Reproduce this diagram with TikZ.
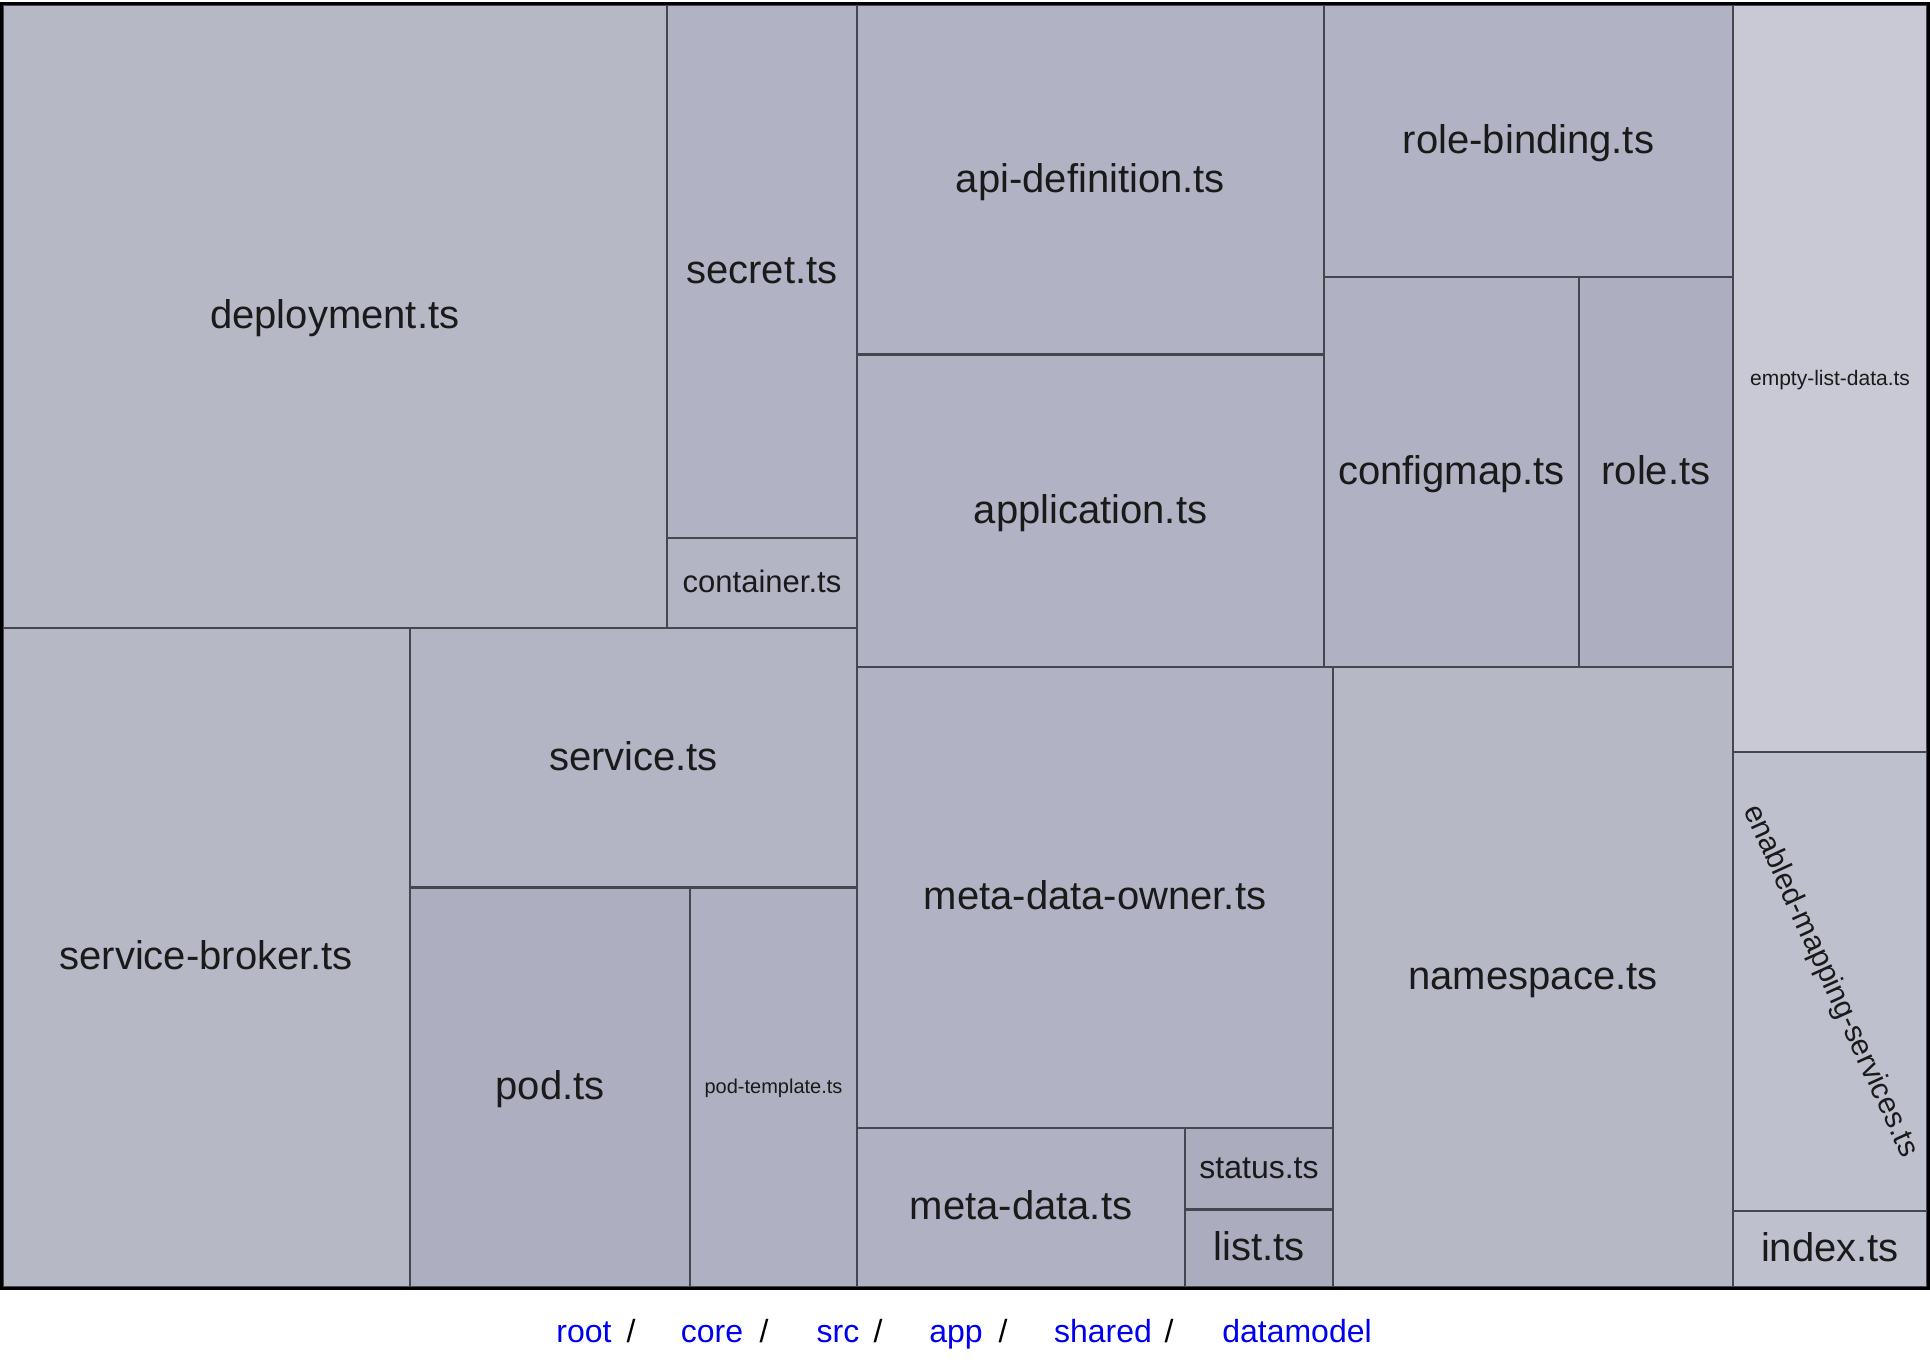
\documentclass[tikz,border=0pt]{standalone}
\usepackage{fontspec}
\setmainfont{Liberation Sans}
\usetikzlibrary{positioning}

\definecolor{tileline}{HTML}{45464F}
\definecolor{labeltext}{HTML}{1A1A1A}
\definecolor{crumbblue}{HTML}{0000EE}
\definecolor{tone1}{HTML}{B7B8C6}
\definecolor{tone2}{HTML}{B1B2C3}
\definecolor{tone3}{HTML}{B3B4C4}
\definecolor{tone4}{HTML}{B0B1C2}
\definecolor{tone5}{HTML}{ADAEBF}
\definecolor{tone6}{HTML}{AFB0C1}
\definecolor{tone7}{HTML}{ABACBE}
\definecolor{pale1}{HTML}{C9C9D6}
\definecolor{pale2}{HTML}{BFC0CE}

\begin{document}
\begin{tikzpicture}[x=1pt, y=-1pt,
    tile/.style 2 args={draw=tileline, line width=2.2pt, inner sep=0pt, text=labeltext,
      minimum width=#1, minimum height=#2, font=\fontsize{40}{48}\selectfont,
      text height=33.6pt, text depth=8.8pt},
    small/.style={font=\fontsize{#1}{#1}\selectfont, text height=0.84*#1, text depth=0.22*#1},
    crumb/.style={anchor=base, text=crumbblue, font=\fontsize{32}{38}\selectfont},
    slash/.style={anchor=base, text=black, font=\fontsize{32}{38}\selectfont}]
    \useasboundingbox (0,0) rectangle (1930,1370);
    % treemap tiles, left block
    \path (334.75,316.5) node[tile={664.5}{623}, fill=tone1](deploy){deployment.ts}
        (762,271.5) node[tile={190}{533}, fill=tone2](secret){secret.ts}
        (762,583) node[tile={190}{90}, fill=tone3, small=31](container){container.ts}
        (206.25,957.5) node[tile={407.5}{659}, fill=tone1](broker){service-broker.ts}
        (633.5,757.75) node[tile={447}{259.5}, fill=tone3](service){service.ts}
        (550,1087.25) node[tile={280}{399.5}, fill=tone5](pod){pod.ts}
        (773.5,1087.25) node[tile={167}{399.5}, fill=tone6, small=20](podtpl){pod-template.ts};
    % middle block
    \path (1090.5,179.75) node[tile={467}{349.5}, fill=tone2](apidef){api-definition.ts}
        (1090.5,510.75) node[tile={467}{312.5}, fill=tone2](application){application.ts}
        (1095,897.5) node[tile={476}{461}, fill=tone2](owner){meta-data-owner.ts}
        (1021,1207.5) node[tile={328}{159}, fill=tone4](metadata){meta-data.ts}
        (1259,1168.75) node[tile={148}{81.5}, fill=tone7, small=32](status){status.ts}
        (1259,1248.25) node[tile={148}{77.5}, fill=tone7](list){list.ts};
    % right block
    \path (1528.5,141) node[tile={409}{272}, fill=tone2](rolebind){role-binding.ts}
        (1451.5,472) node[tile={255}{390}, fill=tone4](configmap){configmap.ts}
        (1656,472) node[tile={154}{390}, fill=tone5](role){role.ts}
        (1533,977) node[tile={400}{620}, fill=tone1](namespace){namespace.ts}
        (1830,378.5) node[tile={194}{747}, fill=pale1, small=21](emptylist){empty-list-data.ts}
        (1830,981.5) node[tile={194}{459}, fill=pale2](enabled){}
        (1830,1249) node[tile={194}{76}, fill=pale2](index){index.ts};
    \node[text=labeltext, rotate=-65.5, font=\fontsize{30}{30}\selectfont] (enabledlbl) at (enabled.center) {enabled-mapping-services.ts};
    % outer frame
    \draw[black, line width=3pt] (deploy.north west) rectangle (index.south east);
    % breadcrumb
    \path (584,1342) node[crumb](root){root}
        (631,1342) node[slash](s1){/}
        (712,1342) node[crumb](core){core}
        (764,1342) node[slash](s2){/}
        (838,1342) node[crumb](src){src}
        (878,1342) node[slash](s3){/}
        (956,1342) node[crumb](app){app}
        (1003,1342) node[slash](s4){/}
        (1103,1342) node[crumb](shared){shared}
        (1169,1342) node[slash](s5){/}
        (1297,1342) node[crumb](datamodel){datamodel};
\end{tikzpicture}
\end{document}
